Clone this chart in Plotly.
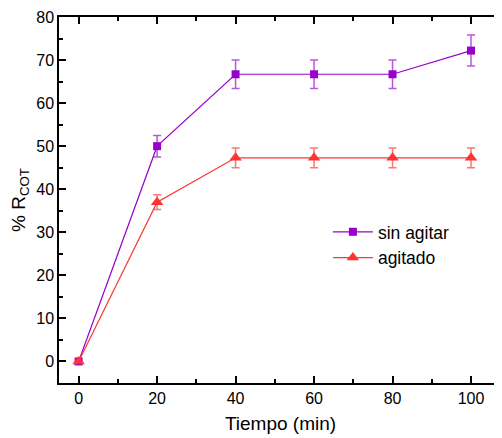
import plotly.graph_objects as go

tiempo = [0, 20, 40, 60, 80, 100]
sin_agitar = [0, 50, 66.7, 66.7, 66.7, 72.2]
sin_agitar_err = [0, 2.5, 3.3, 3.3, 3.3, 3.6]
agitado = [0, 37, 47.3, 47.3, 47.3, 47.3]
agitado_err = [0, 1.7, 2.3, 2.3, 2.3, 2.3]

purple = "#9900CC"
red = "#FF3333"

fig = go.Figure()
fig.add_trace(go.Scatter(
    x=tiempo, y=sin_agitar, name="sin agitar", mode="lines+markers",
    line=dict(color=purple, width=1.2),
    marker=dict(symbol="square", size=8, color=purple),
    error_y=dict(type="data", array=sin_agitar_err, color="rgba(160,30,210,0.75)", thickness=1.5, width=4),
))
fig.add_trace(go.Scatter(
    x=tiempo, y=agitado, name="agitado", mode="lines+markers",
    line=dict(color=red, width=1.2),
    marker=dict(symbol="triangle-up", size=11, color=red),
    error_y=dict(type="data", array=agitado_err, color="rgba(255,70,70,0.75)", thickness=1.5, width=4),
))

font = "Liberation Sans, Arial, sans-serif"
fig.update_layout(
    width=494, height=430,
    margin=dict(l=51, r=0, t=9, b=55, autoexpand=False),
    plot_bgcolor="white", paper_bgcolor="white",
    font=dict(family=font, color="black", size=16),
    showlegend=True,
    legend=dict(x=0.607, y=0.462, xanchor="left", yanchor="top",
                font=dict(size=17.5, family=font), bgcolor="rgba(0,0,0,0)",
                itemwidth=40, tracegroupgap=0),
    xaxis=dict(
        range=[-5, 107.9], tickmode="linear", tick0=0, dtick=20,
        ticks="inside", ticklen=7, tickwidth=1.5, tickcolor="black",
        minor=dict(dtick=10, ticks="inside", ticklen=4, tickwidth=1.5, tickcolor="black"),
        showline=True, linecolor="black", linewidth=1.5, mirror="ticks",
        showgrid=False, zeroline=False,
        title=dict(text="Tiempo (min)", font=dict(size=19), standoff=11),
        tickfont=dict(size=16),
    ),
    yaxis=dict(
        range=[-5, 80], tickmode="linear", tick0=0, dtick=10,
        ticks="inside", ticklen=7, tickwidth=1.5, tickcolor="black",
        minor=dict(dtick=5, ticks="inside", ticklen=4, tickwidth=1.5, tickcolor="black"),
        showline=True, linecolor="black", linewidth=1.5, mirror=False,
        showgrid=False, zeroline=False,
        title=dict(text="% R<sub>COT</sub>", font=dict(size=19), standoff=8),
        tickfont=dict(size=16),
    ),
)

fig.write_html("out.html")
